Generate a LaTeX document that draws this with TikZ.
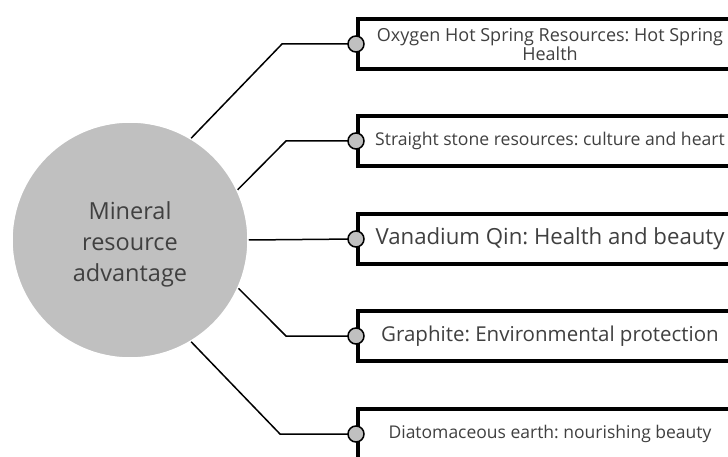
\documentclass[tikz,border=0pt]{standalone}
\usepackage{fontspec}
\setmainfont{Open Sans}
\frenchspacing
\definecolor{hubgray}{HTML}{C0C0C0}
\definecolor{txtgray}{HTML}{404040}
\tikzset{
  hub/.style={circle, fill=hubgray, draw=white, line width=1.5pt, minimum size=236pt, inner sep=0pt},
  hubtext/.style={align=center, text=txtgray, inner sep=0pt, font=\fontsize{23.5}{31}\selectfont},
  itembox/.style={draw=black, fill=white, line width=4pt, minimum width=384pt, minimum height=50pt,
    anchor=west, inner sep=0pt, align=center, text=txtgray},
  dot/.style={circle, fill=hubgray, draw=black, line width=1.5pt, minimum size=16pt, inner sep=0pt},
  link/.style={draw=black, line width=1.5pt},
}
\begin{document}
\begin{tikzpicture}[x=1pt,y=-1pt]
\clip (0,0) rectangle (728,457);
\fill[white] (0,0) rectangle (728,457);

\node[hub] (c) at (130,240) {};
\node[hubtext] (ct) at (130,244) {Mineral\\resource\\advantage};

\node[itembox, font=\fontsize{18}{17}\selectfont] (b1) at (356,44) {Oxygen Hot Spring Resources: Hot Spring\\Health};
\node[itembox, font=\fontsize{17.6}{20}\selectfont] (b2) at (356,141) {Straight stone resources: culture and heart};
\node[itembox, font=\fontsize{22.2}{26}\selectfont] (b3) at (356,239) {Vanadium Qin: Health and beauty};
\node[itembox, font=\fontsize{20.5}{24}\selectfont] (b4) at (356,336) {Graphite: Environmental protection};
\node[itembox, font=\fontsize{17.5}{20}\selectfont] (b5) at (356,434) {Diatomaceous earth: nourishing beauty};

\coordinate (e1) at (282,44);
\coordinate (e2) at (286,141);
\coordinate (e4) at (286,336);
\coordinate (e5) at (280,434);

\path[link] (c.59) -- (e1) -- (b1.west);
\path[link] (c.25) -- (e2) -- (b2.west);
\path[link] (c.east) -- (b3.west);
\path[link] (c.-24) -- (e4) -- (b4.west);
\path[link] (c.-59) -- (e5) -- (b5.west);

\node[dot] (d1) at (b1.west) {};
\node[dot] (d2) at (b2.west) {};
\node[dot] (d3) at (b3.west) {};
\node[dot] (d4) at (b4.west) {};
\node[dot] (d5) at (b5.west) {};
\end{tikzpicture}
\end{document}
